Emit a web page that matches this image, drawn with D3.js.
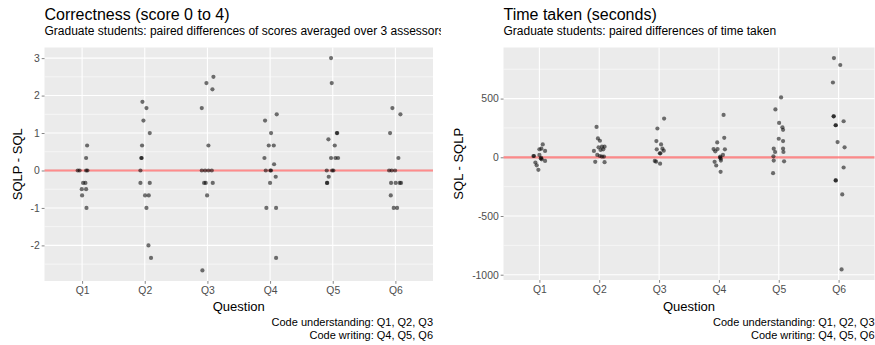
<!DOCTYPE html>
<html>
<head>
<meta charset="utf-8">
<script src="https://cdn.jsdelivr.net/npm/d3@7"></script>
<style>
  body { margin: 0; background: #fff; }
  text { font-family: "Liberation Sans", Arial, Helvetica, sans-serif; }
</style>
</head>
<body>
<div class="chart"></div>
<script>
// Questions on the x axis
let questions = ["Q1", "Q2", "Q3", "Q4", "Q5", "Q6"];

// Correctness: paired differences (SQLP - SQL)
let corrQ = [
  "Q1","Q1","Q1","Q1","Q1","Q1","Q1","Q1","Q1","Q1","Q1","Q1",
  "Q2","Q2","Q2","Q2","Q2","Q2","Q2","Q2","Q2","Q2","Q2","Q2","Q2","Q2","Q2",
  "Q3","Q3","Q3","Q3","Q3","Q3","Q3","Q3","Q3","Q3","Q3","Q3","Q3","Q3",
  "Q4","Q4","Q4","Q4","Q4","Q4","Q4","Q4","Q4","Q4","Q4","Q4","Q4","Q4","Q4",
  "Q5","Q5","Q5","Q5","Q5","Q5","Q5","Q5","Q5","Q5","Q5","Q5","Q5","Q5","Q5",
  "Q6","Q6","Q6","Q6","Q6","Q6","Q6","Q6","Q6","Q6","Q6","Q6","Q6","Q6"
];
let corrDiff = [
  0.667, 0.333, 0, 0, 0, 0, -0.333, -0.333, -0.5, -0.5, -0.667, -1,
  1.833, 1.667, 1.333, 1, 0.667, 0.333, 0.333, 0, -0.333, -0.333, -0.667, -0.667, -1, -2, -2.333,
  2.5, 2.333, 2.167, 1.667, 0.667, 0, 0, 0, 0, -0.333, -0.333, -0.333, -0.667, -2.667,
  1.5, 1.333, 1, 0.667, 0.667, 0.333, 0.167, 0, 0, 0, -0.167, -0.333, -1, -1, -2.333,
  3, 2.333, 1, 1, 0.833, 0.667, 0.333, 0.333, 0.333, 0, 0, 0, -0.167, -0.333, -0.333,
  1.667, 1.5, 1, 0.333, 0, 0, 0, -0.333, -0.333, -0.333, -0.333, -0.667, -1, -1
];
// horizontal jitter of each point, in question widths
let corrJitter = [
  0.08, 0.064, -0.07, -0.04, 0.064, 0.085, 0.016, 0.053, -0.005, 0.064, 0, 0.07,
  -0.037, 0.027, -0.021, 0.08, -0.043, -0.05, -0.055, -0.069, -0.069, 0.08, 0.005, 0.064, 0.027, 0.059, 0.1,
  0.096, -0.016, 0.08, -0.09, 0.016, -0.09, -0.037, 0.016, 0.069, -0.053, -0.027, 0.085, -0.005, -0.08,
  0.106, -0.08, 0.016, -0.021, 0.059, -0.09, 0.064, -0.069, 0.005, 0.015, 0.09, 0, -0.059, 0.096, 0.096,
  -0.027, -0.016, 0.065, 0.072, -0.069, 0.032, -0.027, 0.043, 0.085, -0.096, -0.01, 0.01, -0.064, -0.088, -0.092,
  -0.048, 0.08, -0.085, 0.048, -0.1, -0.059, -0.005, -0.069, 0.005, 0.069, 0.09, -0.074, -0.027, 0.027
];

// Time taken: paired differences (SQL - SQLP) in seconds
let timeQ = [
  "Q1","Q1","Q1","Q1","Q1","Q1","Q1","Q1","Q1","Q1","Q1","Q1","Q1","Q1",
  "Q2","Q2","Q2","Q2","Q2","Q2","Q2","Q2","Q2","Q2","Q2","Q2","Q2","Q2","Q2",
  "Q3","Q3","Q3","Q3","Q3","Q3","Q3","Q3","Q3","Q3","Q3","Q3",
  "Q4","Q4","Q4","Q4","Q4","Q4","Q4","Q4","Q4","Q4","Q4","Q4","Q4","Q4","Q4",
  "Q5","Q5","Q5","Q5","Q5","Q5","Q5","Q5","Q5","Q5","Q5","Q5","Q5","Q5","Q5",
  "Q6","Q6","Q6","Q6","Q6","Q6","Q6","Q6","Q6","Q6","Q6","Q6","Q6","Q6","Q6"
];
let timeDiff = [
  110, 68, 73, 54, 11, 11, 20, -11, -17, -31, -45, -68, -107, -5,
  259, 161, 141, 54, 85, 90, 90, 62, 68, 20, 11, 6, 6, -39, -42,
  330, 245, 138, 110, 68, 73, 56, 34, 34, -31, -37, -54,
  361, 166, 127, 70, 51, 70, 68, 20, 6, -11, -3, -28, -39, -70, -124,
  510, 408, 293, 256, 234, 158, 138, 73, 73, 45, 45, 8, -28, -34, -135,
  845, 786, 637, 349, 349, 307, 273, 273, 130, 85, -87, -197, -197, -316, -955
];
let timeJitter = [
  0.056, 0, 0.033, 0.095, -0.1, -0.09, 0, 0.022, 0.039, 0.095, -0.067, -0.045, -0.017, 0.03,
  -0.045, -0.022, 0.011, -0.089, -0.011, 0.045, 0.089, 0.022, 0.067, -0.033, 0.011, 0.045, 0.078, -0.067, 0.089,
  0.084, -0.028, -0.045, 0.033, -0.039, 0.056, 0.078, 0.012, 0.022, -0.072, -0.05, 0.017,
  0.078, 0.089, -0.028, -0.089, -0.061, -0.022, 0.1, 0.067, 0.022, 0.033, 0.017, 0.033, -0.072, -0.045, 0.028,
  0.039, -0.056, 0.006, 0.061, 0.072, 0, 0.072, -0.084, 0.072, -0.061, 0.078, -0.089, -0.084, 0.089, -0.095,
  -0.078, 0.028, -0.095, -0.084, -0.08, 0.084, -0.05, -0.046, -0.017, 0.1, 0.084, -0.05, -0.046, 0.061, 0.05
];

let corrTicks = [-2, -1, 0, 1, 2, 3];
let timeTicks = [-1000, -500, 0, 500];

let svgWidth = 875;
let svgHeight = 345;

let svg = d3.select(".chart").append("svg")
  .attr("width", svgWidth)
  .attr("height", svgHeight);

// draw one ggplot-style panel
function drawPanel(opts) {
  let g = svg.append("g");
  let box = opts.box;

  let data = opts.q.map((q, i) => ({q: q, v: opts.v[i], j: opts.j[i]}));

  // x scale, discrete with 0.6 expansion each side
  let x = d3.scalePoint()
    .domain(questions)
    .range([box.left, box.right])
    .padding(0.6);

  // y scale, 5% expansion of the data range
  let ext = d3.extent(opts.v);
  let pad = (ext[1] - ext[0]) * 0.05;
  let y = d3.scaleLinear()
    .domain([ext[0] - pad, ext[1] + pad])
    .range([box.bottom, box.top]);

  // panel background
  g.append("rect")
    .attr("x", box.left)
    .attr("y", box.top)
    .attr("width", box.right - box.left)
    .attr("height", box.bottom - box.top)
    .attr("fill", "#EBEBEB");

  // minor grid lines (halfway between majors)
  let minor = [];
  let t = opts.ticks;
  let st = t[1] - t[0];
  for (let k = t[0] - st / 2; k <= t[t.length - 1] + st / 2; k += st) {
    if (y(k) >= box.top && y(k) <= box.bottom) minor.push(k);
  }
  g.selectAll(".minor").data(minor).enter().append("line")
    .attr("x1", box.left).attr("x2", box.right)
    .attr("y1", d => y(d)).attr("y2", d => y(d))
    .attr("stroke", "#fff").attr("stroke-width", 0.55);

  // major grid lines
  g.selectAll(".hmajor").data(opts.ticks).enter().append("line")
    .attr("x1", box.left).attr("x2", box.right)
    .attr("y1", d => y(d)).attr("y2", d => y(d))
    .attr("stroke", "#fff").attr("stroke-width", 1.1);
  g.selectAll(".vmajor").data(questions).enter().append("line")
    .attr("x1", d => x(d)).attr("x2", d => x(d))
    .attr("y1", box.top).attr("y2", box.bottom)
    .attr("stroke", "#fff").attr("stroke-width", 1.1);

  // zero reference line
  g.append("line")
    .attr("x1", box.left).attr("x2", box.right)
    .attr("y1", y(0)).attr("y2", y(0))
    .attr("stroke", "red")
    .attr("stroke-opacity", 0.45)
    .attr("stroke-width", 2.2);

  // jittered points
  g.selectAll("circle").data(data).enter().append("circle")
    .attr("cx", d => x(d.q) + d.j * x.step())
    .attr("cy", d => y(d.v))
    .attr("r", 2.1)
    .attr("fill", "black")
    .attr("fill-opacity", 0.55);

  // axes (plain hyphen minus, no thousands separator, like R)
  let leftAxis = d3.axisLeft(y)
    .tickValues(opts.ticks)
    .tickFormat(d => String(d))
    .tickSize(2.8)
    .tickPadding(2);
  let yAxis = g.append("g")
    .attr("transform", `translate(${box.left},0)`)
    .call(leftAxis);
  let bottomAxis = d3.axisBottom(x).tickSize(2.8).tickPadding(3);
  let xAxis = g.append("g")
    .attr("transform", `translate(0,${box.bottom})`)
    .call(bottomAxis);
  [xAxis, yAxis].forEach(a => {
    a.select(".domain").remove();
    a.selectAll(".tick line").attr("stroke", "#333").attr("stroke-width", 0.6);
    a.selectAll(".tick text")
      .attr("fill", "#4D4D4D")
      .style("font-size", "10.4px")
      .style("font-family", '"Liberation Sans", Arial, Helvetica, sans-serif');
  });

  let midY = (box.top + box.bottom) / 2;
  let midX = (box.left + box.right) / 2;

  // axis titles
  g.append("text")
    .attr("transform", `translate(${opts.yTitleX},${midY}) rotate(-90)`)
    .attr("text-anchor", "middle")
    .style("font-size", "13px")
    .text(opts.yTitle);
  g.append("text")
    .attr("x", midX)
    .attr("y", 311)
    .attr("text-anchor", "middle")
    .style("font-size", "13px")
    .text("Question");

  // title and subtitle
  g.append("text")
    .attr("x", box.left)
    .attr("y", 19.5)
    .style("font-size", "16px")
    .text(opts.title);
  g.append("text")
    .attr("x", box.left)
    .attr("y", 35)
    .attr("clip-path", opts.clip ? `url(#${opts.clip})` : null)
    .style("font-size", "12px")
    .text(opts.subtitle);

  // caption
  g.append("text")
    .attr("x", box.right)
    .attr("y", 326)
    .attr("text-anchor", "end")
    .style("font-size", "11px")
    .text("Code understanding: Q1, Q2, Q3");
  g.append("text")
    .attr("x", box.right)
    .attr("y", 339)
    .attr("text-anchor", "end")
    .style("font-size", "11px")
    .text("Code writing: Q4, Q5, Q6");
}

// clip for the long left subtitle
svg.append("defs").append("clipPath").attr("id", "leftClip")
  .append("rect").attr("x", 0).attr("y", 0).attr("width", 441).attr("height", 345);

drawPanel({
  box: {left: 44.5, right: 433, top: 47.5, bottom: 281},
  q: corrQ, v: corrDiff, j: corrJitter,
  ticks: corrTicks,
  yTitle: "SQLP - SQL",
  yTitleX: 21.5,
  title: "Correctness (score 0 to 4)",
  subtitle: "Graduate students: paired differences of scores averaged over 3 assessors",
  clip: "leftClip"
});

drawPanel({
  box: {left: 503.5, right: 874.5, top: 47.5, bottom: 280},
  q: timeQ, v: timeDiff, j: timeJitter,
  ticks: timeTicks,
  yTitle: "SQL - SQLP",
  yTitleX: 463,
  title: "Time taken (seconds)",
  subtitle: "Graduate students: paired differences of time taken"
});
</script>
</body>
</html>
